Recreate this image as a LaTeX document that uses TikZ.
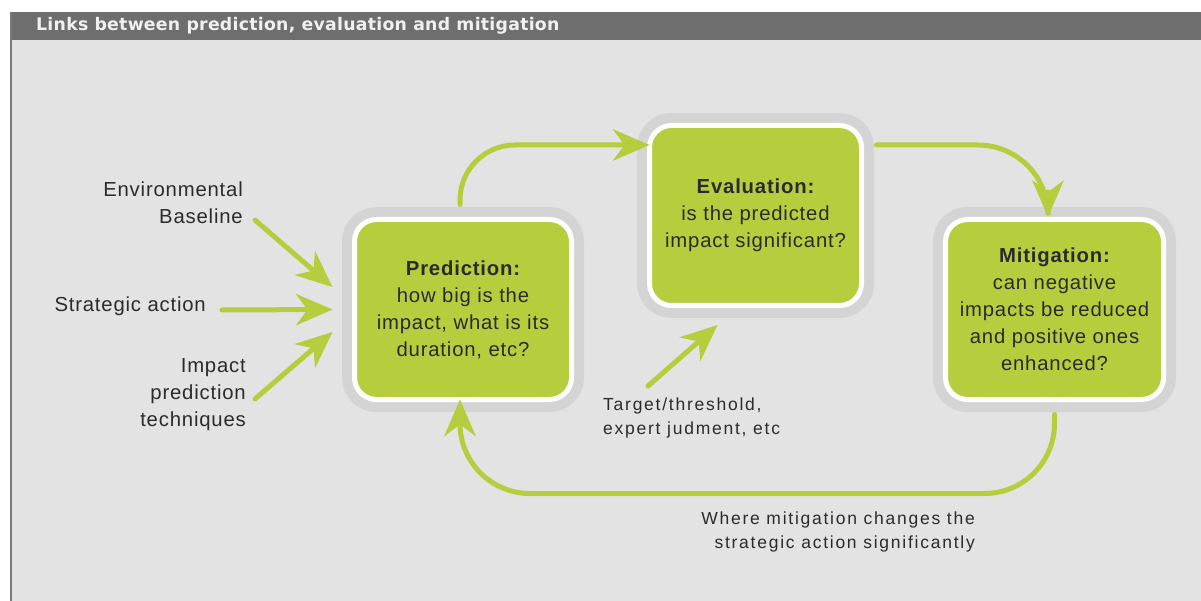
\documentclass[tikz,border=0pt]{standalone}
\usepackage{fontspec}
\setmainfont{Liberation Sans}
\newfontfamily\bodyf[LetterSpace=4]{Liberation Sans}
\newfontfamily\notef[LetterSpace=10]{Liberation Sans}
\newfontfamily\hdrf[LetterSpace=1.5]{DejaVu Sans}
\usetikzlibrary{arrows.meta,calc}
\definecolor{hdrgray}{HTML}{6E6E6E}
\definecolor{panel}{HTML}{E3E3E3}
\definecolor{halo}{HTML}{D4D4D4}
\definecolor{leaf}{HTML}{B6CD3E}
\definecolor{ink}{HTML}{2B2B2B}
\definecolor{edgegray}{HTML}{7A7A7A}
\begin{document}
\begin{tikzpicture}[x=1pt,y=-1pt,
 box/.style={fill=leaf, draw=white, line width=5pt, rounded corners=22pt,
   preaction={draw=halo, line width=25pt}, align=center, text=ink,
   font={\bodyf\fontsize{20.3}{27}\selectfont}, inner sep=0pt},
 lbl/.style={text=ink, font={\bodyf\fontsize{20.3}{27}\selectfont}, align=right, inner sep=0pt},
 note/.style={text=ink, font={\notef\fontsize{17.5}{24}\selectfont}, inner sep=0pt},
 arr/.style={draw=leaf, line width=5pt, line cap=round,
   -{Stealth[length=37pt,width=32pt,inset=12pt,line width=0pt]}}
]
\useasboundingbox (0,0) rectangle (1201,601);
\fill[white] (0,0) rectangle (1201,601);
\fill[panel] (10,40) rectangle (1201,601);
\fill[hdrgray] (10,12) rectangle (1201,40);
\draw[edgegray, line width=2pt] (11,12) -- (11,601);
\node[anchor=west, text=white!94!black, font={\hdrf\bfseries\fontsize{17.3}{19}\selectfont}, inner sep=0pt] (title) at (36,26) {Links between prediction, evaluation and mitigation};

\node[box, minimum width=217pt, minimum height=180pt] (pred) at (463,309.5)
  {{\bfseries Prediction:}\\how big is the\\impact, what is its\\duration, etc?};
\node[box, minimum width=212pt, minimum height=180pt] (eval) at (755.5,215.5)
  {{\bfseries Evaluation:}\\is the predicted\\impact significant?};
\node[box, minimum width=218pt, minimum height=180pt] (mit) at (1054.5,309.5)
  {{\bfseries Mitigation:}\\can negative\\impacts be reduced\\and positive ones\\enhanced?};

\node[lbl, anchor=east] (env) at (243,202.5) {Environmental\\Baseline};
\node[lbl, anchor=east] (strat) at (206,306) {Strategic action};
\node[lbl, anchor=east] (tech) at (246,394.5) {Impact\\prediction\\techniques};
\node[note, anchor=west, align=left] (tgtlbl) at (603,418) {Target/threshold,\\expert judment, etc};
\node[note, anchor=east, align=right] (where) at (975,532) {Where mitigation changes the\\strategic action significantly};

\coordinate (e1) at (255,220);
\coordinate (s1) at (222,310);
\coordinate (i1) at (255,399);
\coordinate (tgt) at (648,386);

\draw[arr] (e1) -- ($(pred.west)+(-19.5,-22.5)$);
\draw[arr] (s1) -- ($(pred.west)+(-19.5,0)$);
\draw[arr] (i1) -- ($(pred.west)+(-19.5,22.5)$);
\draw[arr, rounded corners=55pt] ($(pred.north)+(-3,-12.5)$) |- ($(eval.west)+(2.5,-70.5)$);
\draw[arr, rounded corners=70pt] ($(eval.east)+(12.5,-70.5)$) -| ($(mit.north)+(-6.5,0)$);
\draw[arr] (tgt) -- ($(eval.south)+(-38,17)$);
\draw[arr, rounded corners=70pt] ($(mit.south)+(0,12.5)$) |- ($(pred.south)+(-3,91.5)$) -- ($(pred.south)+(-3,-2.5)$);
\end{tikzpicture}
\end{document}
